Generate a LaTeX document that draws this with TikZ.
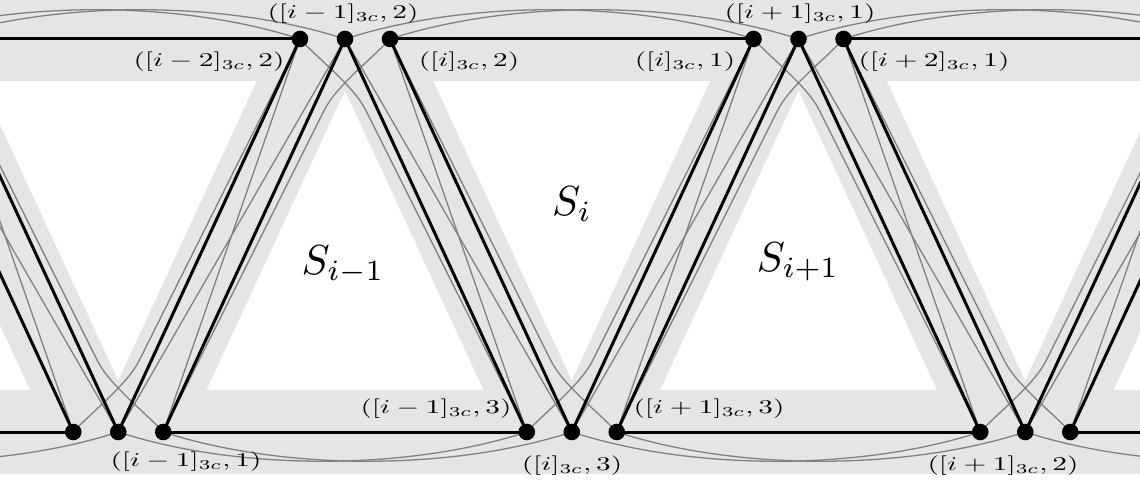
\documentclass[tikz,border=0pt]{standalone}
\usepackage{graphicx}
\usetikzlibrary{calc}
\definecolor{bandgray}{RGB}{229,229,229}
\definecolor{edgegray}{RGB}{128,128,128}
\newcommand{\vlab}[1]{\scalebox{2.93}[1.95]{$#1$}}
\newcommand{\slab}[1]{\scalebox{4.2}{$#1$}}
\newcommand{\toparc}[2]{\draw[gry] (#1) .. controls +(120,39) and +(-120,39) .. (#2);}
\newcommand{\botarc}[2]{\draw[gry] (#1) .. controls +(120,-39) and +(-120,-39) .. (#2);}
\newcommand{\ccurve}[3]{%
  \draw[gry] let \p1=(#1), \p2=(#2), \p3=(#3),
    \p4=({0.819*(\x2-\x1)+0.27*(\x3-\x2)},{0.819*(\y2-\y1)}) in
    (\p1) -- ({\x1+\x4},{\y1+\y4})
    .. controls +({0.075*\x4},{0.075*\y4}) and +({-0.4*(\x3-\x2)},{-0.05*(\y2-\y1)}) .. (\p3);}
\begin{document}
\begin{tikzpicture}[x=1pt,y=1pt,
  band/.style={line width=84pt, draw=bandgray},
  blk/.style={line width=3pt, draw=black},
  gry/.style={line width=1.3pt, draw=edgegray},
  dot/.style={circle, fill=black, inner sep=0pt, minimum size=16.6pt},
  lab/.style={inner sep=0pt}]
\useasboundingbox (0,0) rectangle (1140,482);
\fill[white] (0,0) rectangle (1140,482);
% top groups
\coordinate (TaL) at (-153.5,443); \coordinate (TaM) at (-108.5,443); \coordinate (TaR) at (-63.5,443);
\coordinate (TbL) at (300,443);    \coordinate (TbM) at (345,443);    \coordinate (TbR) at (390,443);
\coordinate (TcL) at (753.5,443);  \coordinate (TcM) at (798.5,443);  \coordinate (TcR) at (843.5,443);
\coordinate (TdL) at (1207,443);   \coordinate (TdM) at (1252,443);   \coordinate (TdR) at (1297,443);
% bottom groups
\coordinate (BaL) at (-380.25,50); \coordinate (BaM) at (-335.25,50); \coordinate (BaR) at (-290.25,50);
\coordinate (BbL) at (73.25,50);   \coordinate (BbM) at (118.25,50);  \coordinate (BbR) at (163.25,50);
\coordinate (BcL) at (526.75,50);  \coordinate (BcM) at (571.75,50);  \coordinate (BcR) at (616.75,50);
\coordinate (BdL) at (980.25,50);  \coordinate (BdM) at (1025.25,50); \coordinate (BdR) at (1070.25,50);
\coordinate (BeL) at (1433.75,50); \coordinate (BeM) at (1478.75,50); \coordinate (BeR) at (1523.75,50);
\begin{scope}
\clip (0,0) rectangle (1140,482);
% bands
\draw[band] (-200,443) -- (1340,443);
\draw[band] (-200,50) -- (1340,50);
\draw[band] ($(TaM)!.5!(TaR)$) -- ($(BbL)!.5!(BbM)$);
\draw[band] ($(TbL)!.5!(TbM)$) -- ($(BbM)!.5!(BbR)$);
\draw[band] ($(TbM)!.5!(TbR)$) -- ($(BcL)!.5!(BcM)$);
\draw[band] ($(TcL)!.5!(TcM)$) -- ($(BcM)!.5!(BcR)$);
\draw[band] ($(TcM)!.5!(TcR)$) -- ($(BdL)!.5!(BdM)$);
\draw[band] ($(TdL)!.5!(TdM)$) -- ($(BdM)!.5!(BdR)$);
% gray arcs
\toparc{TaM}{TbL} \toparc{TaR}{TbM} \toparc{TbM}{TcL}
\toparc{TbR}{TcM} \toparc{TcM}{TdL} \toparc{TcR}{TdM}
\botarc{BaR}{BbM} \botarc{BbM}{BcL} \botarc{BbR}{BcM}
\botarc{BcM}{BdL} \botarc{BcR}{BdM} \botarc{BdM}{BeL}
% gray crossing edges
\draw[gry] (TaM) -- (BbM); \draw[gry] (BbL) -- (TaR);
\draw[gry] (TbL) -- (BbR); \draw[gry] (BbM) -- (TbM);
\draw[gry] (TbM) -- (BcM); \draw[gry] (BcL) -- (TbR);
\draw[gry] (TcL) -- (BcR); \draw[gry] (BcM) -- (TcM);
\draw[gry] (TcM) -- (BdM); \draw[gry] (BdL) -- (TcR);
\draw[gry] (TdL) -- (BdR); \draw[gry] (BdM) -- (TdM);
% gray curves along the bands
\ccurve{BaR}{TaM}{TaR} \ccurve{TbL}{BbM}{BbL}
\ccurve{TaR}{BbM}{BbR} \ccurve{BcL}{TbM}{TbL}
\ccurve{BbR}{TbM}{TbR} \ccurve{TcL}{BcM}{BcL}
\ccurve{TbR}{BcM}{BcR} \ccurve{BdL}{TcM}{TcL}
\ccurve{BcR}{TcM}{TcR} \ccurve{TdL}{BdM}{BdL}
\ccurve{TcR}{BdM}{BdR} \ccurve{BeL}{TdM}{TdL}
% black edges
\draw[blk] (TaM) -- (BbL); \draw[blk] (BaR) -- (BbL);
\draw[blk] (TbL) -- (BbM); \draw[blk] (BbM) -- (TaR); \draw[blk] (TaR) -- (TbL);
\draw[blk] (TbM) -- (BcL); \draw[blk] (BcL) -- (BbR); \draw[blk] (BbR) -- (TbM);
\draw[blk] (TbR) -- (BcM); \draw[blk] (BcM) -- (TcL); \draw[blk] (TcL) -- (TbR);
\draw[blk] (TcM) -- (BdL); \draw[blk] (BdL) -- (BcR); \draw[blk] (BcR) -- (TcM);
\draw[blk] (TcR) -- (BdM); \draw[blk] (BdM) -- (TdL); \draw[blk] (TdL) -- (TcR);
\draw[blk] (TdM) -- (BdR); \draw[blk] (BdR) -- (BeL);
\end{scope}
% dots
\foreach \n in {TbL,TbM,TbR,TcL,TcM,TcR,BbL,BbM,BbR,BcL,BcM,BcR,BdL,BdM,BdR}
  \node[dot] (d\n) at (\n) {};
% labels
\node[lab] (l1) at (343,468) {\vlab{([i-1]_{3c},2)}};
\node[lab] (l2) at (209,420) {\vlab{([i-2]_{3c},2)}};
\node[lab] (l3) at (469,420) {\vlab{([i]_{3c},2)}};
\node[lab] (l4) at (685,420) {\vlab{([i]_{3c},1)}};
\node[lab] (l5) at (800,468) {\vlab{([i+1]_{3c},1)}};
\node[lab] (l6) at (934,420) {\vlab{([i+2]_{3c},1)}};
\node[lab] (l7) at (186,20) {\vlab{([i-1]_{3c},1)}};
\node[lab] (l8) at (436,73) {\vlab{([i-1]_{3c},3)}};
\node[lab] (l9) at (572,16) {\vlab{([i]_{3c},3)}};
\node[lab] (l10) at (709,73) {\vlab{([i+1]_{3c},3)}};
\node[lab] (l11) at (1003,16) {\vlab{([i+1]_{3c},2)}};
\node[lab] (s1) at (343,217) {\slab{S_{i-1}}};
\node[lab] (s2) at (572,278) {\slab{S_{i}}};
\node[lab] (s3) at (798,220) {\slab{S_{i+1}}};
\end{tikzpicture}
\end{document}
